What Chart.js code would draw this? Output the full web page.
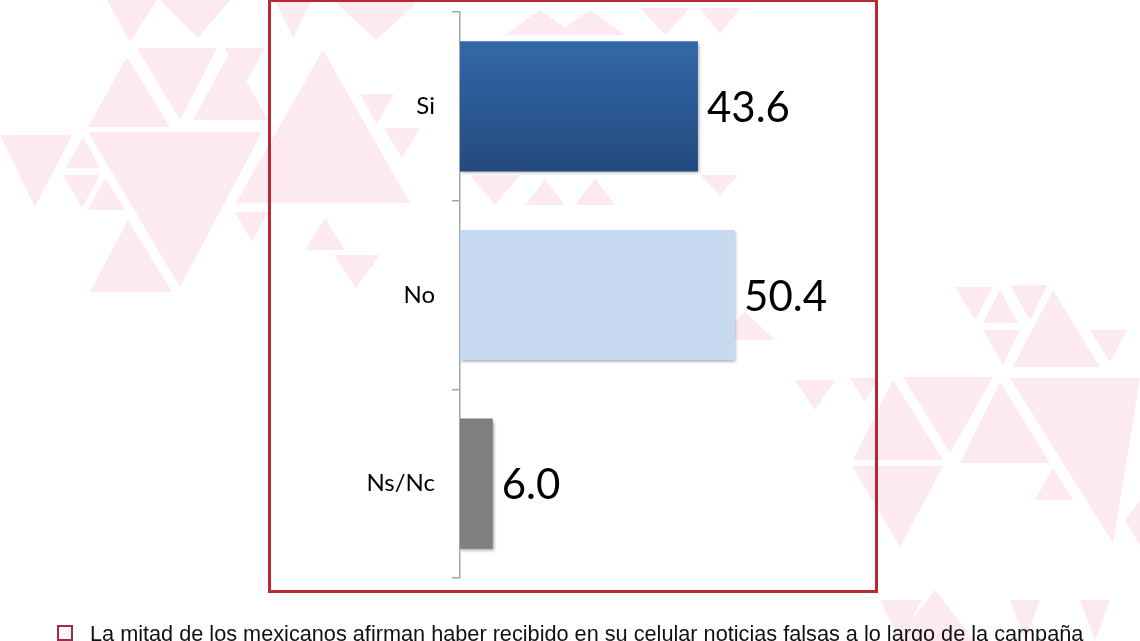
<!DOCTYPE html>
<html>
<head>
<meta charset="utf-8">
<script src="https://cdn.jsdelivr.net/npm/chart.js@4/dist/chart.umd.min.js"></script>
<style>
  html, body { margin:0; padding:0; background:#fff; }
  #wrap { position:relative; width:1140px; height:641px; overflow:hidden; background:#fff; }
  #bg { position:absolute; left:0; top:0; }
  #box { position:absolute; left:268px; top:-1px; width:604px; height:588px; border:3px solid #b8282e; box-sizing:content-box; }
  #cv { position:absolute; left:0; top:0; }
  #note { position:absolute; left:90px; top:623px; font-family:"Liberation Sans", Arial, sans-serif; font-size:21.7px; line-height:22px; color:#111; white-space:nowrap; }
  #chk { position:absolute; left:57px; top:625px; width:16px; height:16px; border:2px solid #9b2d52; box-sizing:border-box; background:#fdf6f8; }
</style>
</head>
<body>
<div id="wrap">
  <svg id="bg" width="1140" height="641" xmlns="http://www.w3.org/2000/svg">
    <g fill="#fceaef">
      <polygon points="107,0 157,0 130,42"/>
      <polygon points="160,0 230,0 198,38"/>
      <polygon points="137,48 217,48 180,120"/>
      <polygon points="127,57 170,127 88,127"/>
      <polygon points="225,48 265,48 245,85"/>
      <polygon points="230,52 268,120 193,120"/>
      <polygon points="88,132 262,132 180,287"/>
      <polygon points="0,135 72,135 35,207"/>
      <polygon points="83,137 100,168 66,168"/>
      <polygon points="63,175 100,175 82,208"/>
      <polygon points="105,178 125,210 88,210"/>
      <polygon points="128,220 172,292 90,292"/>
      <polygon points="235,212 268,212 252,242"/>
      <polygon points="275,0 312,0 293,38"/>
      <polygon points="333,0 420,0 376,40"/>
      <polygon points="323,50 410,203 236,203"/>
      <polygon points="360,94 394,94 377,124"/>
      <polygon points="384,128 420,128 402,158"/>
      <polygon points="325,218 345,250 305,250"/>
      <polygon points="334,255 380,255 356,288"/>
      <polygon points="540,10 575,35 505,35"/>
      <polygon points="590,10 625,35 555,35"/>
      <polygon points="640,8 690,8 665,35"/>
      <polygon points="700,8 740,8 720,34"/>
      <polygon points="470,175 520,175 495,205"/>
      <polygon points="545,180 565,205 525,205"/>
      <polygon points="595,178 615,205 575,205"/>
      <polygon points="700,175 738,175 720,195"/>
      <polygon points="745,312 775,340 715,340"/>
      <polygon points="795,380 835,380 815,410"/>
      <polygon points="850,378 878,378 865,402"/>
      <polygon points="955,287 993,287 975,320"/>
      <polygon points="1000,290 1018,323 983,323"/>
      <polygon points="1010,285 1047,285 1030,320"/>
      <polygon points="1053,290 1100,367 1013,367"/>
      <polygon points="1090,330 1127,330 1110,362"/>
      <polygon points="983,330 1020,330 1003,365"/>
      <polygon points="893,380 943,460 853,460"/>
      <polygon points="903,377 993,377 950,453"/>
      <polygon points="1000,382 1050,463 960,463"/>
      <polygon points="1010,378 1140,378 1113,543"/>
      <polygon points="852,466 943,466 900,547"/>
      <polygon points="1053,468 1073,500 1035,500"/>
      <polygon points="1125,520 1140,500 1140,545"/>
      <polygon points="880,600 922,600 900,641"/>
      <polygon points="935,590 975,641 895,641"/>
      <polygon points="1010,600 1040,600 1025,641"/>
      <polygon points="1080,600 1110,600 1095,641"/>
    </g>
  </svg>
  <div id="box"></div>
  <canvas id="cv" width="1140" height="641"></canvas>
  <div id="chk"></div>
  <div id="note">La mitad de los mexicanos afirman haber recibido en su celular noticias falsas a lo largo de la campaña</div>
</div>
<script>
const categories = ["Si", "No", "Ns/Nc"];
const values = [43.6, 50.4, 6.0];
const barColors = ["#2f62a3", "#c6d9f0", "#7f7f7f"];

const valueLabels = {
  id: "valueLabels",
  afterDatasetsDraw(chart) {
    const ctx = chart.ctx;
    const meta = chart.getDatasetMeta(0);
    ctx.save();
    ctx.font = "42px Lato, 'Open Sans', sans-serif";
    ctx.fillStyle = "#000";
    ctx.textAlign = "left";
    ctx.textBaseline = "middle";
    meta.data.forEach((bar, i) => {
      ctx.fillText(values[i].toFixed(1), bar.x + 9, bar.y + 2);
    });
    ctx.restore();
  }
};

const shadow = {
  id: "shadow",
  beforeDatasetsDraw(chart) {
    chart.ctx.save();
    chart.ctx.shadowColor = "rgba(0,0,0,0.35)";
    chart.ctx.shadowBlur = 3;
    chart.ctx.shadowOffsetX = 1;
    chart.ctx.shadowOffsetY = 2;
  },
  afterDatasetsDraw(chart) {
    chart.ctx.restore();
  }
};

new Chart(document.getElementById("cv"), {
  type: "bar",
  data: {
    labels: categories,
    datasets: [{
      data: values,
      backgroundColor: (c) => {
        const i = c.dataIndex;
        if (i === 0 && c.chart.chartArea) {
          const y = c.chart.scales.y.getPixelForValue(0);
          const g = c.chart.ctx.createLinearGradient(0, y - 65, 0, y + 65);
          g.addColorStop(0, "#3368a8");
          g.addColorStop(1, "#234a7e");
          return g;
        }
        return barColors[i];
      },
      borderWidth: 0,
      barPercentage: 0.69,
      categoryPercentage: 1.0
    }]
  },
  options: {
    indexAxis: "y",
    responsive: false,
    animation: false,
    devicePixelRatio: 1,
    layout: { padding: { left: 0, top: 12, right: 298, bottom: 63 } },
    plugins: { legend: { display: false }, tooltip: { enabled: false } },
    scales: {
      x: { display: false, min: 0, max: 70 },
      y: {
        afterFit(scale) { scale.width = 460; scale.paddingTop = 0; scale.paddingBottom = 0; },
        grid: { offset: true, drawOnChartArea: false, drawTicks: true, tickLength: 8, color: "#a6a6a6", lineWidth: 1.5 },
        border: { display: true, color: "#a6a6a6", width: 1.5 },
        ticks: { padding: 17, color: "#000", font: { family: "Lato, 'Open Sans', sans-serif", size: 24 } }
      }
    }
  },
  plugins: [shadow, valueLabels]
});
</script>
</body>
</html>
